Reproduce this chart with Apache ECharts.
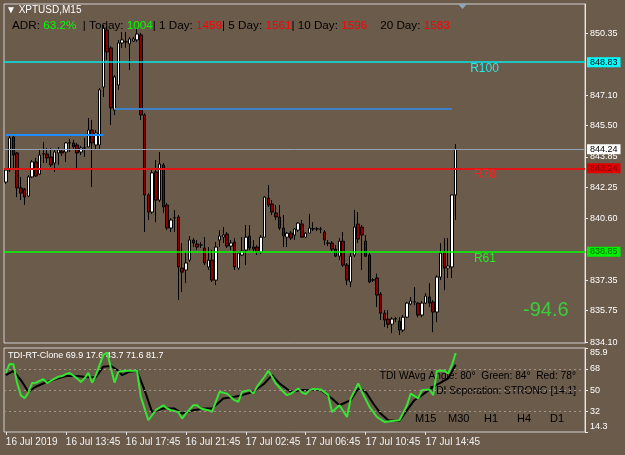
<!DOCTYPE html>
<html>
<head>
<meta charset="utf-8">
<title>XPTUSD,M15</title>
<script src="https://cdn.jsdelivr.net/npm/echarts@6/dist/echarts.min.js"></script>
<style>
  html, body { margin: 0; padding: 0; background: #6b5b4b; }
  #chart { width: 625px; height: 455px; }
</style>
</head>
<body>
<div id="chart"></div>
<script>
// M15 bars, [open, close, low, high]
var bars = [
  [842.52,843.15,842.42,843.26],[843.15,844.84,843.05,845.00],[844.89,843.94,843.15,844.94],[844.05,842.21,841.73,844.10],
  [842.21,841.94,841.57,842.79],[842.15,841.73,841.31,842.21],[841.78,842.79,841.73,842.89],[842.79,843.58,842.74,843.68],
  [843.58,842.84,842.79,843.79],[842.94,843.94,842.89,844.21],[844.00,844.02,843.52,844.63],[844.00,843.79,843.52,844.31],
  [843.84,843.42,843.31,844.31],[843.52,844.10,843.05,844.21],[844.05,844.21,843.42,844.37],[844.15,844.05,843.89,844.26],
  [844.10,844.58,843.58,844.63],[844.58,844.60,844.10,844.79],[844.58,844.37,844.21,844.74],[844.47,844.05,843.15,844.58],
  [844.10,844.31,843.94,844.42],[844.31,844.33,843.84,844.84],[844.37,845.26,844.37,845.89],[845.26,844.58,842.26,845.79],
  [844.47,845.10,844.21,845.26],[844.47,847.37,844.21,847.47],[847.52,850.63,847.00,850.79],[850.52,849.37,848.95,850.63],
  [849.58,846.42,845.52,849.68],[846.31,848.05,846.05,848.15],[847.63,849.84,847.37,850.00],[849.84,850.00,849.58,850.42],
  [849.89,849.91,849.58,850.42],[849.79,850.05,848.42,850.16],[849.94,850.05,849.89,850.16],[850.00,850.31,849.89,850.63],
  [850.26,846.05,845.79,850.37],[846.05,841.84,839.89,846.15],[841.84,840.94,840.52,841.94],[840.94,843.00,840.84,843.15],
  [843.05,841.57,840.41,843.68],[841.57,843.47,841.47,844.10],[843.42,841.21,840.89,843.52],[841.31,840.10,839.99,841.42],
  [840.10,840.52,839.89,840.62],[840.62,840.64,839.89,841.05],[840.68,838.05,836.31,840.78],[837.99,837.78,836.73,839.31],
  [837.89,838.26,837.20,838.83],[838.41,839.47,838.31,839.68],[839.47,839.31,839.10,839.57],[839.26,839.10,838.94,839.47],
  [839.20,839.22,839.05,839.36],[839.05,838.26,838.15,839.62],[838.05,838.41,837.89,839.10],[838.41,837.36,837.26,838.94],
  [837.36,839.10,837.10,839.36],[839.47,839.68,839.10,839.99],[839.62,839.73,839.31,840.15],[839.78,839.15,839.05,839.89],
  [839.15,839.31,838.94,839.47],[839.36,838.05,837.89,839.57],[837.99,838.78,837.89,838.89],[838.68,838.89,838.62,839.62],
  [838.94,839.62,838.15,840.26],[839.68,839.05,838.94,840.26],[839.10,838.99,838.83,839.47],[839.10,838.83,838.68,839.20],
  [838.83,839.62,838.73,839.73],[839.62,841.73,839.62,841.78],[841.68,841.31,841.21,842.36],[841.36,840.94,840.78,841.57],
  [840.89,840.68,840.52,841.31],[840.68,840.10,839.99,841.31],[840.10,839.68,839.10,840.78],[839.62,839.83,839.10,839.89],
  [839.83,839.57,839.47,839.94],[839.73,840.05,839.47,840.10],[839.99,840.36,839.89,840.41],[840.31,839.62,839.62,840.52],
  [839.62,839.83,839.57,839.89],[839.83,840.10,839.83,840.84],[840.05,840.07,839.94,840.41],[840.05,840.06,839.94,840.15],
  [840.05,840.04,839.83,840.15],[839.89,839.47,839.20,839.99],[839.31,839.30,839.15,839.47],[839.31,838.99,838.89,839.41],
  [838.99,838.62,838.57,839.20],[838.62,839.41,838.41,839.57],[839.41,838.15,838.05,839.89],[838.15,837.36,837.10,838.26],
  [837.26,838.62,836.99,838.78],[838.68,840.15,838.57,841.05],[840.31,839.52,839.31,840.94],[840.15,839.73,837.89,840.26],
  [839.41,838.62,838.57,839.73],[838.68,837.26,837.20,838.78],[837.36,837.38,837.26,837.47],[837.47,836.57,835.94,837.70],
  [836.62,835.62,835.26,836.73],[835.62,835.26,834.89,835.78],[835.31,835.04,834.83,835.78],[835.04,835.31,834.57,835.41],
  [835.31,835.33,835.15,835.41],[835.20,834.73,834.47,835.41],[834.73,835.41,834.62,835.52],[835.41,836.15,835.36,836.20],
  [836.10,836.26,836.04,836.47],[836.20,836.22,836.04,836.99],[836.15,835.52,835.41,836.20],[835.52,836.15,835.41,836.26],
  [836.15,836.52,836.10,836.67],[836.47,836.15,835.94,837.20],[836.20,835.68,834.62,836.31],[835.68,837.52,835.15,837.62],
  [837.52,838.78,837.36,839.31],[838.83,837.99,836.83,839.57],[837.99,838.10,837.47,839.57],[838.05,841.84,837.47,841.84],
  [841.84,844.24,840.52,844.52]
];

var slotCount = 155;          // bars plus the empty shift area on the right
var labelStep = 16;
var timeLabels = ['16 Jul 2019', '16 Jul 13:45', '16 Jul 17:45', '16 Jul 21:45',
                  '17 Jul 02:45', '17 Jul 06:45', '17 Jul 10:45', '17 Jul 14:45'];
var priceTicks = [834.10, 835.75, 837.35, 840.60, 842.25, 843.85, 845.50, 847.10, 850.35];
var priceMin = 834.05, priceMax = 851.89;

var r100 = 848.83, r78 = 843.24, r61 = 838.85, lastPrice = 844.24;
// [fromBar, toBar, price]
var blueLineA = [29, 119, 846.37];
var blueLineB = [0, 26, 845.00];

// TDI: [bar, value]
var tdiGreen = [[0,64.6],[1,72.3],[2,72],[3,56],[4,45.7],[5,43],[6,48],[7,56],[8,56.3],[10,59.4],[11,56],[12,58],
  [14,61.4],[15,62],[16,63.7],[17,64.6],[19,60],[20,57],[21,60],[22,64.8],[23,56.3],[24,62.8],[26,80],[27,82],
  [28,68.8],[29,56.3],[30,65.7],[32,66.5],[34,66.5],[35,66.5],[36,44.3],[38,24.3],[39,28.6],[40,32.9],[42,37.1],
  [43,34.3],[44,32.9],[46,31.4],[47,25.7],[48,30],[50,37.1],[51,37],[52,34.3],[54,32.9],[55,31.4],[56,40],[57,48.6],
  [59,47],[61,41.4],[62,40],[63,48.6],[65,50],[66,47],[67,52.9],[69,61.4],[70,66.5],[71,61.4],[72,55.7],[74,48.6],
  [75,45.7],[76,47],[78,51.4],[79,48],[80,46.6],[81,50],[82,51],[84,50.6],[86,45.7],[87,31.4],[89,37.1],[91,27.1],
  [92,42.9],[94,55.7],[95,48.6],[97,35.7],[99,27.1],[101,22.9],[103,23.7],[105,24.3],[107,37.1],[108,47],[110,42.9],
  [111,50],[113,50.6],[114,45.7],[115,66.5],[117,66.5],[118,64.3],[119,71.4],[120,81.7]];
var tdiBlack = [[0,62.8],[2,66.5],[4,58.6],[6,48.6],[8,52.9],[11,57],[14,60],[16,62],[19,62],[22,61],[24,61],[26,70],
  [28,70.6],[30,66.5],[31,62.8],[33,65.7],[35,66.5],[37,50],[39,31.4],[42,34.3],[45,34.3],[47,30],[50,32.9],[53,34.3],
  [55,34.3],[58,42.9],[61,44.3],[63,45.7],[66,48.6],[69,55.7],[71,62.8],[73,55.7],[76,48.6],[79,50],[81,50],[84,50],
  [87,42.9],[89,37.1],[92,41.4],[94,51.4],[96,48.6],[98,38.6],[100,30],[102,24.3],[105,23.7],[107,32.9],[109,41.4],
  [111,45.7],[114,52.9],[116,56.3],[118,60],[120,71.6]];
var tdiTicks = [14.3, 32, 50, 68, 85.9];
var tdiLevels = [32, 50, 68];
var tdiMin = 14.3, tdiMax = 85.9;

var slots = [];
for (var i = 0; i < slotCount; i++) slots.push(String(i));

var chart = echarts.init(document.getElementById('chart'));

function priceBox(bg, fg) {
  return {
    show: true, position: 'end', distance: 2,
    formatter: function (p) { return p.value.toFixed(2); },
    backgroundColor: bg, color: fg, fontSize: 9, fontFamily: 'Liberation Sans',
    padding: [1, 3, 0, 3]
  };
}

var font = 'Liberation Sans';

chart.setOption({
  backgroundColor: '#6b5b4b',
  animation: false,
  textStyle: { fontFamily: font },
  title: [
    { text: '▼ XPTUSD,M15', left: 6, top: 5, padding: 0,
      textStyle: { color: '#ffffff', fontSize: 10, fontWeight: 'normal' } },
    { text: 'ADR: {g|63.2%}  | Today: {g|1004}| 1 Day: {r|1459}| 5 Day: {r|1561}| 10 Day: {r|1596}    20 Day: {r|1583}',
      left: 12, top: 20, padding: 0,
      textStyle: { color: '#000000', fontSize: 11.7, fontWeight: 'normal',
        rich: { g: { color: '#00ff00', fontSize: 11.7 }, r: { color: '#ff0000', fontSize: 11.7 } } } }
  ],
  grid: [
    { left: 4, top: 4, width: 581, height: 339, show: true, borderColor: '#d0d0d0', borderWidth: 1, backgroundColor: 'transparent' },
    { left: 4, top: 348, width: 581, height: 84, show: true, borderColor: '#d0d0d0', borderWidth: 1, backgroundColor: 'transparent' }
  ],
  xAxis: [
    { type: 'category', gridIndex: 0, data: slots, boundaryGap: true, show: false },
    { type: 'category', gridIndex: 1, data: slots, boundaryGap: true,
      axisLine: { show: false },
      axisTick: { show: true, alignWithLabel: true, length: 3, lineStyle: { color: '#e0e0e0' },
        interval: function (idx) { return idx % labelStep === 0 && idx / labelStep < timeLabels.length; } },
      axisLabel: { show: true, color: '#f2f2f2', fontSize: 10, align: 'left', margin: 5,
        interval: function (idx) { return idx % labelStep === 0 && idx / labelStep < timeLabels.length; },
        formatter: function (v, idx) { return timeLabels[idx / labelStep] || ''; } },
      splitLine: { show: false } }
  ],
  yAxis: [
    { type: 'value', gridIndex: 0, position: 'right', min: priceMin, max: priceMax, scale: true,
      axisLine: { show: true, lineStyle: { color: '#e8e8e8' } },
      axisTick: { show: true, length: 3, customValues: priceTicks, lineStyle: { color: '#e8e8e8' } },
      axisLabel: { show: true, customValues: priceTicks, color: '#ffffff', fontSize: 9, margin: 5,
        formatter: function (v) { return v.toFixed(2); } },
      splitLine: { show: false } },
    { type: 'value', gridIndex: 1, position: 'right', min: tdiMin, max: tdiMax,
      axisLine: { show: true, lineStyle: { color: '#e8e8e8' } },
      axisTick: { show: true, length: 3, customValues: tdiTicks, lineStyle: { color: '#e8e8e8' } },
      axisLabel: { show: true, customValues: tdiTicks, color: '#ffffff', fontSize: 9, margin: 5,
        formatter: function (v) {
          if (v === tdiMax) return '{t|' + v + '}';
          if (v === tdiMin) return '{b|' + v + '}';
          return String(v);
        },
        rich: { t: { padding: [10, 0, 0, 0], color: '#ffffff', fontSize: 9 },
                b: { padding: [0, 0, 10, 0], color: '#ffffff', fontSize: 9 } } },
      splitLine: { show: false } }
  ],
  series: [
    {
      name: 'XPTUSD', type: 'candlestick', xAxisIndex: 0, yAxisIndex: 0,
      data: bars.map(function (b) { return [b[0], b[1], b[2], b[3]]; }),
      barWidth: 3,
      itemStyle: { color: '#ffffff', color0: '#8b0000', borderColor: '#000000', borderColor0: '#000000', borderWidth: 1 },
      markLine: {
        silent: true, symbol: ['none', 'none'], animation: false,
        data: [
          { yAxis: r100, lineStyle: { color: '#00e8e8', width: 1.5, type: 'solid' }, label: priceBox('#00ffff', '#000000') },
          { yAxis: lastPrice, lineStyle: { color: '#93a3b5', width: 1, type: 'solid' }, label: priceBox('#ffffff', '#000000') },
          { yAxis: r78, lineStyle: { color: '#e01414', width: 2, type: 'solid' }, label: priceBox('#e00000', '#7a0000') },
          { yAxis: r61, lineStyle: { color: '#00ff00', width: 1.5, type: 'solid' }, label: priceBox('#00ee00', '#006600') },
          [ { coord: [blueLineA[0], blueLineA[2]], lineStyle: { color: '#3f7fc4', width: 2, type: 'solid' }, label: { show: false } },
            { coord: [blueLineA[1], blueLineA[2]] } ],
          [ { coord: [blueLineB[0], blueLineB[2]], lineStyle: { color: '#1e8cff', width: 2, type: 'solid' }, label: { show: false } },
            { coord: [blueLineB[1], blueLineB[2]] } ]
        ]
      },
      markPoint: {
        silent: true, symbol: 'rect', symbolSize: 1, itemStyle: { color: 'transparent' },
        label: { show: true, position: [0, 1], fontSize: 12, formatter: function (p) { return p.name; } },
        data: [
          { name: 'R100', coord: [124, r100], label: { color: '#2ee6e6' } },
          { name: 'R78', coord: [125, r78], label: { color: '#ff2020' } },
          { name: 'R61', coord: [125, r61], label: { color: '#22ee22' } }
        ]
      }
    },
    {
      name: 'TDI signal', type: 'line', xAxisIndex: 1, yAxisIndex: 1, data: tdiBlack,
      showSymbol: false, symbol: 'none', lineStyle: { color: '#000000', width: 2 },
      markLine: {
        silent: true, symbol: ['none', 'none'], animation: false, label: { show: false },
        lineStyle: { color: '#a09488', width: 1, type: [2, 3] },
        data: tdiLevels.map(function (v) { return { yAxis: v }; })
      }
    },
    {
      name: 'TDI price', type: 'line', xAxisIndex: 1, yAxisIndex: 1, data: tdiGreen,
      showSymbol: false, symbol: 'none', lineStyle: { color: '#33e633', width: 2 }
    }
  ],
  graphic: [
    { type: 'polygon', shape: { points: [[458, 4], [467, 4], [462.5, 9]] }, style: { fill: '#8ea4bc' }, silent: true },
    { type: 'text', left: 523, top: 300, silent: true,
      style: { text: '-94.6', fill: '#3ccc3c', fontSize: 20, fontFamily: font } },
    { type: 'text', x: 8, y: 351, silent: true,
      style: { text: 'TDI-RT-Clone 69.9 17.6 43.7 71.6 81.7', fill: '#ffffff', fontSize: 9, fontFamily: font } },
    { type: 'text', x: 576, y: 371, silent: true,
      style: { text: 'TDI WAvg Angle: 80°  Green: 84°  Red: 78°', fill: '#000000', fontSize: 10.2, fontFamily: font, align: 'right' } },
    { type: 'text', x: 576, y: 386, silent: true,
      style: { text: 'TDI Seperation: STRONG [14.1]', fill: '#000000', fontSize: 10.2, fontFamily: font, align: 'right' } },
    { type: 'text', x: 415, y: 413, silent: true,
      style: { text: 'M15', fill: '#000000', fontSize: 11, fontFamily: font } },
    { type: 'text', x: 448, y: 413, silent: true,
      style: { text: 'M30', fill: '#000000', fontSize: 11, fontFamily: font } },
    { type: 'text', x: 484, y: 413, silent: true,
      style: { text: 'H1', fill: '#000000', fontSize: 11, fontFamily: font } },
    { type: 'text', x: 517, y: 413, silent: true,
      style: { text: 'H4', fill: '#000000', fontSize: 11, fontFamily: font } },
    { type: 'text', x: 550, y: 413, silent: true,
      style: { text: 'D1', fill: '#000000', fontSize: 11, fontFamily: font } }
  ]
});
</script>
</body>
</html>
